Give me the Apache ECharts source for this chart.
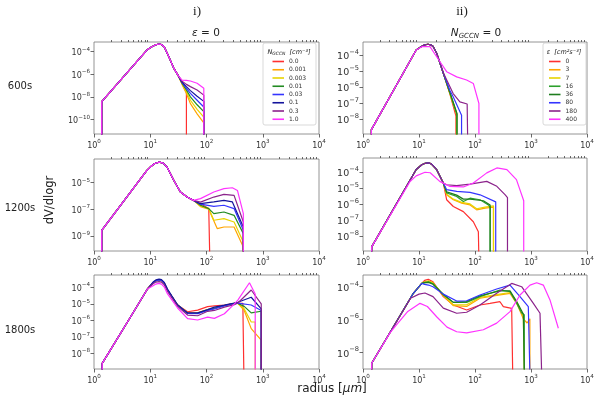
<!DOCTYPE html>
<html><head><meta charset="utf-8">
<script src="https://cdn.jsdelivr.net/npm/echarts@6/dist/echarts.min.js"></script>
<style>html,body{margin:0;padding:0;background:#fff}#c{width:606px;height:410px}</style>
</head><body><div id="c"></div>
<script>
// ===== DATA: points are [log10(radius / µm), log10(dV/dlogr)] =====
const gccnNames = ['0.0','0.001','0.003','0.01','0.03','0.1','0.3','1.0'];
const epsNames  = ['0','3','7','16','36','80','180','400'];
const gccnColors = ['#ff3030','#ffa500','#e8d400','#228b22','#3434ff','#14149c','#8b238b','#ff33ff'];
const epsColors  = ['#ff3030','#ffa500','#e8d400','#2ca02c','#1e7d1e','#3434ff','#8b238b','#ff33ff'];

const xTicks = [0,1,2,3,4];
const yTicksA = [-10,-8,-6,-4];
const yTicksB = [-8,-7,-6,-5,-4];
const yTicksC = [-9,-7,-5];
const yTicksD = [-8,-7,-6,-5,-4];
const yTicksE = [-8,-7,-6,-5,-4];
const yTicksF = [-8,-6,-4];

// Panel A: 600 s, eps = 0, varying N_GCCN
const riseA = [[0.137,-12],[0.137,-8.43],[0.94,-3.87],[1.02,-3.6],[1.09,-3.42],[1.16,-3.34],[1.2,-3.38],[1.25,-3.6],[1.33,-4.46],[1.42,-5.49],[1.50,-6.15]];
const tailsA = [
  [[1.565,-6.8],[1.643,-7.6],[1.643,-12]],
  [[1.565,-6.9],[1.643,-7.7],[1.714,-8.6],[1.833,-9.5],[1.952,-10.3],[1.952,-12]],
  [[1.565,-6.85],[1.643,-7.55],[1.714,-8.3],[1.833,-9.1],[1.952,-9.8],[1.952,-12]],
  [[1.565,-6.8],[1.643,-7.4],[1.714,-8.0],[1.833,-8.7],[1.952,-9.3],[1.952,-12]],
  [[1.565,-6.75],[1.643,-7.25],[1.714,-7.7],[1.833,-8.3],[1.952,-8.9],[1.952,-12]],
  [[1.565,-6.7],[1.643,-7.1],[1.714,-7.45],[1.833,-7.95],[1.952,-8.4],[1.952,-12]],
  [[1.565,-6.62],[1.643,-6.9],[1.714,-7.1],[1.833,-7.4],[1.952,-7.85],[1.952,-12]],
  [[1.565,-6.52],[1.643,-6.55],[1.714,-6.6],[1.833,-6.8],[1.952,-7.25],[1.952,-12]]
];

// Panel B: 600 s, N_GCCN = 0, varying eps
const riseB = [[0.15,-9.5],[0.15,-8.65],[0.95,-3.69],[1.05,-3.45],[1.1,-3.37],[1.16,-3.33],[1.21,-3.37],[1.25,-3.45],[1.316,-3.89],[1.434,-5.14]];
const tailsB = [
  [[1.55,-6.4],[1.66,-7.8],[1.66,-9.5]],
  [[1.55,-6.38],[1.67,-7.7],[1.67,-9.5]],
  [[1.55,-6.36],[1.67,-7.6],[1.67,-9.5]],
  [[1.55,-6.35],[1.675,-7.7],[1.675,-9.5]],
  [[1.55,-6.3],[1.68,-7.65],[1.68,-9.5]],
  [[1.55,-6.2],[1.61,-6.6],[1.76,-7.75],[1.76,-9.5]],
  [[1.434,-5.1],[1.61,-6.4],[1.73,-6.92],[1.86,-7.05],[1.87,-9.5]],
  [[0.15,-9.5],[0.15,-8.65],[0.95,-3.69],[1.06,-3.47],[1.196,-3.48],[1.375,-4.42],[1.494,-5.04],[1.673,-5.36],[1.85,-5.56],[1.97,-5.77],[2.07,-7.02],[2.07,-9.5]]
];

// Panel C: 1200 s, eps = 0, varying N_GCCN
const riseC = [[0.137,-11],[0.137,-8.59],[0.94,-4.07],[1.0,-3.82],[1.08,-3.55],[1.16,-3.45],[1.23,-3.52],[1.30,-3.83],[1.42,-4.83],[1.536,-5.70],[1.655,-6.08],[1.77,-6.33]];
const tailsC = [
  [[1.893,-6.58],[2.04,-6.95],[2.06,-7.0],[2.06,-11]],
  [[1.893,-6.8],[2.04,-7.0],[2.19,-8.46],[2.31,-8.34],[2.49,-8.34],[2.64,-9.71],[2.655,-9.8],[2.655,-11]],
  [[1.893,-6.75],[2.04,-6.95],[2.13,-7.83],[2.31,-7.71],[2.49,-7.96],[2.64,-9.34],[2.655,-9.4],[2.655,-11]],
  [[1.893,-6.7],[2.04,-6.95],[2.13,-7.33],[2.31,-7.21],[2.49,-7.46],[2.655,-8.84],[2.655,-11]],
  [[1.893,-6.62],[2.13,-6.78],[2.31,-6.70],[2.49,-6.95],[2.655,-8.59],[2.655,-11]],
  [[1.893,-6.58],[2.13,-6.45],[2.31,-6.33],[2.46,-6.45],[2.655,-8.34],[2.655,-11]],
  [[1.893,-6.46],[2.13,-6.08],[2.31,-5.88],[2.49,-5.95],[2.655,-7.96],[2.655,-11]],
  [[1.893,-6.2],[2.13,-5.70],[2.31,-5.45],[2.46,-5.38],[2.55,-5.58],[2.655,-7.33],[2.655,-11]]
];

// Panel D: 1200 s, N_GCCN = 0, varying eps
const riseD = [[0.155,-9.5],[0.155,-8.68],[0.95,-3.85],[1.05,-3.55],[1.11,-3.46],[1.166,-3.43],[1.22,-3.5],[1.316,-3.86],[1.434,-4.69]];
const tailsD = [
  [[1.494,-5.74],[1.613,-6.16],[1.792,-6.48],[1.97,-7.11],[2.06,-7.74],[2.07,-9.5]],
  [[1.494,-5.43],[1.613,-5.74],[1.762,-5.95],[1.911,-6.06],[2.03,-6.37],[2.18,-6.26],[2.33,-6.2],[2.33,-9.5]],
  [[1.494,-5.4],[1.613,-5.7],[1.762,-5.9],[1.911,-6.0],[2.03,-6.3],[2.18,-6.2],[2.33,-6.12],[2.33,-9.5]],
  [[1.494,-5.32],[1.673,-5.53],[1.792,-5.85],[1.911,-5.64],[2.09,-5.74],[2.24,-6.06],[2.27,-6.2],[2.27,-9.5]],
  [[1.494,-5.25],[1.673,-5.45],[1.792,-5.7],[1.911,-5.7],[2.15,-5.8],[2.27,-6.06],[2.27,-9.5]],
  [[1.494,-5.11],[1.673,-5.22],[1.911,-5.28],[2.09,-5.43],[2.37,-5.87],[2.37,-9.5]],
  [[1.494,-4.80],[1.673,-4.86],[1.911,-4.76],[2.21,-4.59],[2.39,-4.90],[2.54,-5.43],[2.58,-5.6],[2.58,-9.5]],
  [[0.84,-4.6],[0.95,-4.25],[1.107,-4.02],[1.2,-4.05],[1.37,-4.59],[1.545,-4.90],[1.792,-4.94],[1.97,-4.69],[2.21,-4.06],[2.39,-3.75],[2.57,-3.86],[2.74,-4.48],[2.87,-5.8],[2.87,-9.5]]
];

// Panel E: 1800 s, eps = 0, varying N_GCCN
const riseE = [[0.146,-9.2],[0.146,-8.61],[0.652,-5.78],[0.95,-4.1],[1.05,-3.72],[1.1,-3.6],[1.157,-3.55],[1.2,-3.58],[1.25,-3.75],[1.307,-4.16],[1.486,-5.07]];
const tailsE = [
  [[1.664,-5.48],[1.843,-5.38],[2.02,-5.17],[2.14,-5.12],[2.318,-5.07],[2.496,-4.97],[2.646,-4.97],[2.664,-4.95],[2.664,-9.2]],
  [[1.664,-5.55],[1.843,-5.55],[2.02,-5.35],[2.14,-5.25],[2.318,-5.1],[2.496,-4.97],[2.557,-4.97],[2.67,-5.4],[2.795,-6.5],[2.973,-7.2],[2.973,-9.2]],
  [[1.664,-5.55],[1.843,-5.55],[2.02,-5.35],[2.14,-5.25],[2.318,-5.1],[2.496,-4.97],[2.557,-4.97],[2.67,-5.3],[2.795,-6.1],[2.866,-6.1],[2.866,-9.2]],
  [[1.664,-5.57],[1.843,-5.58],[2.02,-5.37],[2.14,-5.27],[2.318,-5.1],[2.496,-4.97],[2.557,-4.97],[2.67,-5.15],[2.795,-5.55],[2.973,-5.45],[2.973,-9.2]],
  [[1.664,-5.58],[1.843,-5.6],[2.02,-5.4],[2.14,-5.3],[2.318,-5.12],[2.496,-4.97],[2.557,-4.95],[2.795,-5.07],[2.973,-5.4],[2.973,-9.2]],
  [[1.05,-3.68],[1.1,-3.55],[1.157,-3.5],[1.2,-3.53],[1.25,-3.7],[1.307,-4.1],[1.486,-5.07],[1.664,-5.55],[1.843,-5.55],[2.02,-5.35],[2.14,-5.2],[2.318,-5.08],[2.496,-4.95],[2.557,-4.9],[2.795,-4.6],[2.973,-5.3],[2.973,-9.2]],
  [[1.05,-3.78],[1.1,-3.68],[1.157,-3.65],[1.2,-3.68],[1.25,-3.85],[1.307,-4.25],[1.486,-5.15],[1.664,-5.68],[1.843,-5.72],[2.02,-5.45],[2.14,-5.4],[2.318,-5.2],[2.496,-5.05],[2.557,-4.95],[2.795,-4.16],[2.973,-5.0],[2.973,-9.2]],
  [[1.05,-3.9],[1.1,-3.8],[1.15,-3.76],[1.2,-3.8],[1.25,-3.98],[1.307,-4.4],[1.486,-5.25],[1.664,-5.9],[1.843,-5.98],[2.02,-5.8],[2.14,-5.88],[2.318,-5.6],[2.496,-5.0],[2.557,-4.77],[2.764,-3.72],[2.866,-4.4],[2.866,-9.2]]
];

// Panel F: 1800 s, N_GCCN = 0, varying eps
const riseF = [[0.155,-9.2],[0.155,-8.64],[0.899,-4.4],[1.05,-3.8]];
const tailsF = [
  [[1.1,-3.62],[1.166,-3.55],[1.25,-3.7],[1.434,-4.6],[1.613,-5.11],[1.851,-5.41],[2.089,-5.11],[2.268,-5.01],[2.446,-4.91],[2.506,-5.21],[2.655,-5.31],[2.673,-5.35],[2.673,-9.2]],
  [[1.1,-3.7],[1.17,-3.65],[1.25,-3.75],[1.434,-4.55],[1.613,-5.15],[1.851,-5.2],[2.089,-4.7],[2.446,-4.5],[2.625,-4.4],[2.744,-5.01],[2.863,-5.95],[2.93,-6.2],[2.98,-5.95],[2.98,-9.2]],
  [[1.1,-3.72],[1.17,-3.68],[1.25,-3.78],[1.434,-4.5],[1.613,-5.1],[1.851,-5.1],[2.089,-4.65],[2.446,-4.45],[2.625,-4.35],[2.744,-4.9],[2.863,-5.8],[2.88,-5.85],[2.88,-9.2]],
  [[1.1,-3.74],[1.17,-3.7],[1.25,-3.82],[1.434,-4.5],[1.613,-4.95],[1.851,-4.95],[2.089,-4.6],[2.446,-4.2],[2.625,-4.3],[2.744,-5.0],[2.833,-5.6],[2.88,-5.7],[2.88,-9.2]],
  [[1.1,-3.77],[1.17,-3.74],[1.25,-3.85],[1.434,-4.45],[1.613,-4.95],[1.851,-4.9],[2.089,-4.55],[2.446,-4.25],[2.625,-4.25],[2.744,-4.9],[2.863,-5.65],[2.88,-5.7],[2.88,-9.2]],
  [[1.1,-3.86],[1.17,-3.9],[1.25,-4.0],[1.434,-4.45],[1.673,-4.87],[1.851,-4.85],[2.089,-4.5],[2.387,-4.14],[2.625,-3.9],[2.804,-4.6],[2.952,-5.21],[2.98,-5.25],[2.98,-9.2]],
  [[0.85,-4.7],[1.0,-4.45],[1.107,-4.38],[1.25,-4.6],[1.434,-5.3],[1.673,-5.61],[1.851,-5.55],[2.089,-5.11],[2.387,-4.4],[2.655,-3.8],[2.833,-4.0],[3.042,-5.01],[3.161,-5.61],[3.19,-5.65],[3.19,-9.2]],
  [[0.482,-6.8],[0.601,-6.3],[0.8,-5.5],[1.018,-5.01],[1.15,-5.2],[1.315,-5.82],[1.5,-6.45],[1.673,-6.73],[1.851,-6.8],[2.149,-6.61],[2.387,-6.21],[2.625,-5.51],[2.804,-4.5],[2.982,-3.9],[3.101,-3.76],[3.22,-3.9],[3.339,-4.8],[3.488,-6.52]]
];

// ===== LAYOUT / STYLE =====
const grids = [
  {left:94,  top:42,  width:225, height:92},
  {left:363, top:42,  width:224, height:92},
  {left:94,  top:159, width:225, height:92},
  {left:363, top:158, width:224, height:93},
  {left:94,  top:275, width:225, height:94},
  {left:363, top:275, width:224, height:94}
];
const yRanges = [[-11.28,-3.16],[-8.92,-3.19],[-10.15,-3.21],[-8.94,-3.13],[-8.95,-3.25],[-8.99,-3.29]];
const yTickSets = [yTicksA,yTicksB,yTicksC,yTicksD,yTicksE,yTicksF];
const yFont = [8,9.5,8,9.5,8,9.5];

function pow10(v){
  const e = Math.round(v);
  return '{b|10}{s|' + (e < 0 ? '\u2212' + (-e) : String(e)) + '}';
}
function powRich(size) {
  return {
    b:{fontSize:size, fontFamily:'DejaVu Sans', color:'#333', verticalAlign:'bottom', lineHeight:size*1.35},
    s:{fontSize:size*0.7, fontFamily:'DejaVu Sans', color:'#333', verticalAlign:'top', lineHeight:size*1.35}
  };
}
const minorX = [];
for (let n = 0; n < 4; n++) for (let k = 2; k <= 9; k++) minorX.push(n + Math.log10(k));

const FONT = 'DejaVu Sans';
const tickStyle = {color:'#444', width:0.8};
const xAxes = [], yAxes = [], series = [];
grids.forEach((g, i) => {
  xAxes.push({type:'value', gridIndex:i, min:0, max:4,
    axisLine:{show:false}, splitLine:{show:false},
    axisTick:{show:true, customValues:xTicks, length:3.5, lineStyle:tickStyle},
    axisLabel:{customValues:xTicks, formatter:pow10, color:'#333', margin:5, rich:powRich(8)}});
  yAxes.push({type:'value', gridIndex:i, min:yRanges[i][0], max:yRanges[i][1],
    axisLine:{show:false}, splitLine:{show:false},
    axisTick:{show:true, customValues:yTickSets[i], length:3.5, lineStyle:tickStyle},
    axisLabel:{customValues:yTickSets[i], formatter:pow10, color:'#333', margin:4, rich:powRich(yFont[i])}});
});
grids.forEach((g, i) => {
  xAxes.push({type:'value', gridIndex:i, min:0, max:4,
    axisLine:{show:false}, splitLine:{show:false}, axisLabel:{show:false},
    axisTick:{show:true, customValues:minorX, length:2, lineStyle:tickStyle}});
});

function build(base, tails, names, colors, gi) {
  tails.forEach((t, k) => {
    const d = base.filter(p => p[0] < t[0][0]).concat(t);
    series.push({type:'line', name:names[k], xAxisIndex:gi, yAxisIndex:gi, data:d,
      symbol:'none', showSymbol:false, clip:true, animation:false, silent:true,
      lineStyle:{color:colors[k], width:1.2}, itemStyle:{color:colors[k]}});
  });
}
build(riseA, tailsA, gccnNames, gccnColors, 0);
build(riseB, tailsB, epsNames, epsColors, 1);
build(riseC, tailsC, gccnNames, gccnColors, 2);
build(riseD, tailsD, epsNames, epsColors, 3);
build(riseE, tailsE, gccnNames, gccnColors, 4);
build(riseF, tailsF, epsNames, epsColors, 5);

function legendAt(left, names) {
  return {orient:'vertical', left:left, top:57.5, padding:0, itemGap:0.25,
    itemWidth:11.5, itemHeight:1.6, icon:'rect', data:names, selectedMode:false, z:5,
    textStyle:{fontSize:6, lineHeight:8, color:'#333', fontFamily:FONT}};
}

function txt(x, y, text, extra) {
  return Object.assign({type:'text', x:x, y:y, z:10,
    style:Object.assign({text:text, align:'center', verticalAlign:'middle', fill:'#222', fontFamily:FONT, fontSize:10}, extra || {})});
}

const graphics = [
  {type:'rect', shape:{x:263, y:43, width:53, height:82, r:2}, z:3,
    style:{fill:'rgba(255,255,255,0.85)', stroke:'#cfcfcf', lineWidth:0.8}},
  {type:'rect', shape:{x:543, y:43, width:43, height:82, r:2}, z:3,
    style:{fill:'rgba(255,255,255,0.85)', stroke:'#cfcfcf', lineWidth:0.8}},
  txt(197, 12, 'i)', {fontFamily:'Liberation Serif', fontSize:13}),
  txt(462, 12, 'ii)', {fontFamily:'Liberation Serif', fontSize:13}),
  txt(206, 33, '{e|ε} = 0', {fontSize:10.5, rich:{e:{fontStyle:'italic', fontSize:10.5, fontFamily:FONT}}}),
  txt(476, 33, '{n|N}{s|GCCN} = 0', {fontSize:10.5, rich:{
    n:{fontStyle:'italic', fontSize:10.5, fontFamily:FONT, verticalAlign:'middle', lineHeight:14},
    s:{fontStyle:'italic', fontSize:7, fontFamily:FONT, verticalAlign:'bottom', lineHeight:14}}}),
  txt(289, 52, '{n|N}{s|GCCN}  {u|[cm⁻³]}', {fontSize:6.5, rich:{
    n:{fontStyle:'italic', fontSize:6.5, fontFamily:FONT, verticalAlign:'middle', lineHeight:9},
    s:{fontStyle:'italic', fontSize:4.5, fontFamily:FONT, verticalAlign:'bottom', lineHeight:9},
    u:{fontStyle:'italic', fontSize:6.5, fontFamily:FONT, verticalAlign:'middle', lineHeight:9}}}),
  txt(564, 52, '{u|ε  [cm²s⁻³]}', {fontSize:6.5, rich:{
    u:{fontStyle:'italic', fontSize:6.5, fontFamily:FONT}}}),
  txt(20, 86, '600s'),
  txt(20, 208, '1200s'),
  txt(20, 330, '1800s'),
  txt(50, 200, 'dV/dlogr', {fontSize:11.5}),
  txt(332, 389, 'radius [{m|μm}]', {fontSize:12, rich:{m:{fontStyle:'italic', fontSize:12, fontFamily:FONT}}})
];
graphics[graphics.length - 2].rotation = Math.PI / 2;

const chart = echarts.init(document.getElementById('c'), null, {renderer:'canvas'});
chart.setOption({
  animation:false,
  backgroundColor:'#ffffff',
  grid: grids.map(g => Object.assign({show:true, borderColor:'#7a7a7a', borderWidth:0.8,
    backgroundColor:'transparent', containLabel:false, outerBoundsMode:'none'}, g)),
  xAxis: xAxes,
  yAxis: yAxes,
  legend: [legendAt(272.5, gccnNames), legendAt(549, epsNames)],
  graphic: graphics,
  series: series
});
</script>
</body></html>
